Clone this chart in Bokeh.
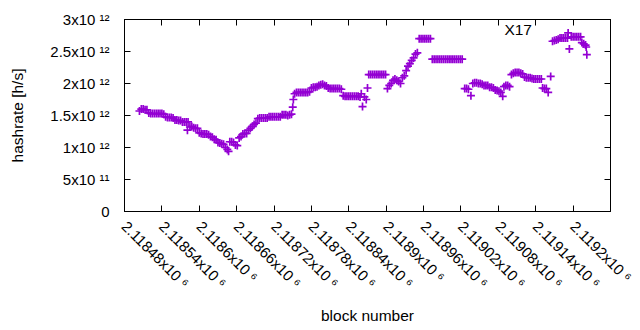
import math
from bokeh.plotting import figure
from bokeh.models import Range1d, FixedTicker, LinearAxis, Label, ColumnDataSource
from bokeh.embed import file_html
from bokeh.resources import INLINE

# ---- data (block number, hashrate in 10^12 h/s) ----
block_number = [
    2118504,
    2118507, 2118510, 2118513, 2118516,
    2118519, 2118522, 2118525, 2118528, 2118531, 2118534, 2118537, 2118540, 2118543,
    2118546, 2118549, 2118552, 2118555, 2118558,
    2118561, 2118564, 2118567, 2118570,
    2118573, 2118576, 2118579, 2118582,
    2118581,
    2118585, 2118588, 2118591, 2118594, 2118597,
    2118600, 2118603, 2118606, 2118609, 2118612, 2118615,
    2118618, 2118621, 2118624, 2118627,
    2118630, 2118633, 2118636, 2118639,
    2118642, 2118645, 2118647,
    2118649, 2118652, 2118655,
    2118658, 2118661,
    2118664, 2118667, 2118670, 2118673, 2118676,
    2118679, 2118682, 2118685,
    2118688, 2118691,
    2118694, 2118697, 2118700, 2118703, 2118706, 2118709,
    2118712, 2118715, 2118718, 2118721, 2118724, 2118727, 2118730,
    2118733, 2118736, 2118739, 2118742, 2118745, 2118748,
    2118750, 2118751,
    2118753, 2118756, 2118759, 2118762, 2118765, 2118768, 2118771, 2118774, 2118777,
    2118780, 2118783, 2118786, 2118789,
    2118792, 2118795, 2118798, 2118801, 2118804,
    2118807, 2118810, 2118813, 2118816, 2118819, 2118822, 2118825, 2118828,
    2118831, 2118834, 2118837, 2118840, 2118843, 2118846, 2118849, 2118852, 2118855, 2118858,
    2118860, 2118862, 2118865, 2118868, 2118870, 2118872,
    2118875, 2118878, 2118881, 2118884, 2118887, 2118890, 2118893, 2118896, 2118899,
    2118902, 2118905, 2118908, 2118911, 2118914, 2118917, 2118920, 2118923, 2118926,
    2118929, 2118932, 2118935, 2118938, 2118941, 2118944, 2118947, 2118950,
    2118953, 2118956, 2118959, 2118962, 2118965, 2118968, 2118971,
    2118974, 2118977, 2118980, 2118983, 2118986, 2118989, 2118992, 2118995, 2118998,
    2119001, 2119004, 2119007, 2119010, 2119013, 2119016, 2119019, 2119022,
    2119026, 2119029, 2119032, 2119036,
    2119039, 2119042, 2119045, 2119048, 2119051, 2119054,
    2119057, 2119060, 2119063,
    2119066, 2119069, 2119072,
    2119075, 2119078, 2119081, 2119084,
    2119087,
    2119089, 2119092, 2119095, 2119098,
    2119101, 2119104, 2119107, 2119110, 2119113, 2119116, 2119119,
    2119122, 2119125, 2119128, 2119131, 2119134,
    2119137, 2119140, 2119143, 2119146, 2119149,
    2119151, 2119154, 2119157, 2119160,
    2119164,
    2119167, 2119170, 2119173, 2119176,
    2119179, 2119182, 2119185, 2119188, 2119191, 2119192, 2119194,
    2119197, 2119200, 2119203, 2119206, 2119209, 2119212,
    2119214, 2119217, 2119220, 2119221, 2119222,
]

hashrate_e12 = [
    1.57,
    1.60, 1.60, 1.59, 1.59,
    1.54, 1.53, 1.53, 1.53, 1.53, 1.53, 1.53, 1.53, 1.52,
    1.48, 1.47, 1.47, 1.47, 1.46,
    1.43, 1.43, 1.42, 1.42,
    1.40, 1.40, 1.40, 1.40,
    1.27,
    1.32, 1.33, 1.31, 1.30, 1.30,
    1.23, 1.22, 1.21, 1.21, 1.21, 1.20,
    1.17, 1.16, 1.13, 1.12,
    1.08, 1.07, 1.06, 1.05,
    1.00, 0.97, 0.94,
    1.09, 1.09, 1.08,
    1.04, 1.03,
    1.15, 1.17, 1.21, 1.22, 1.22,
    1.27, 1.30, 1.33,
    1.36, 1.38,
    1.45, 1.46, 1.46, 1.46, 1.46, 1.46,
    1.48, 1.48, 1.48, 1.48, 1.48, 1.48, 1.48,
    1.51, 1.51, 1.51, 1.50, 1.51, 1.52,
    1.63, 1.75,
    1.84, 1.86, 1.86, 1.86, 1.86, 1.86, 1.86, 1.86, 1.87,
    1.93, 1.94, 1.94, 1.95,
    1.97, 1.98, 1.99, 1.97, 1.96,
    1.93, 1.92, 1.92, 1.92, 1.92, 1.92, 1.92, 1.91,
    1.81, 1.80, 1.80, 1.80, 1.80, 1.80, 1.80, 1.80, 1.80, 1.79,
    1.84, 1.64, 1.79, 1.75, 1.93, 2.14,
    2.14, 2.14, 2.14, 2.14, 2.14, 2.14, 2.14, 2.14, 2.14,
    1.92, 1.97, 2.00, 2.05, 2.07, 2.05, 2.03, 2.00, 2.09,
    2.12, 2.20, 2.27, 2.31, 2.36, 2.40, 2.46, 2.48,
    2.70, 2.70, 2.70, 2.70, 2.70, 2.70, 2.70,
    2.38, 2.38, 2.38, 2.38, 2.38, 2.38, 2.38, 2.38, 2.38,
    2.38, 2.38, 2.38, 2.38, 2.38, 2.38, 2.38, 2.38,
    1.92, 1.92, 1.91, 1.81,
    2.00, 2.01, 2.01, 2.00, 2.00, 1.99,
    1.97, 1.97, 1.97,
    1.94, 1.94, 1.93,
    1.90, 1.89, 1.88, 1.86,
    1.80,
    1.95, 1.97, 1.97, 1.95,
    2.14, 2.16, 2.17, 2.17, 2.17, 2.16, 2.15,
    2.10, 2.09, 2.09, 2.09, 2.08,
    2.07, 2.07, 2.07, 2.07, 2.07,
    1.93, 1.92, 1.92, 1.86,
    2.11,
    2.66, 2.67, 2.68, 2.69,
    2.71, 2.71, 2.71, 2.71, 2.71, 2.79, 2.54,
    2.73, 2.73, 2.73, 2.73, 2.73, 2.73,
    2.64, 2.62, 2.60, 2.57, 2.45,
]

# x range ends at the last tick (2.11926x10^6), which lies on the right border;
# its label runs off the picture, so labelled ticks stop at 2.1192x10^6
x_ticks = [2118480, 2118540, 2118600, 2118660, 2118720, 2118780, 2118840,
           2118900, 2118960, 2119020, 2119080, 2119140, 2119200, 2119260]
x_tick_labels = ["2.11848x10 \u2076", "2.11854x10 \u2076", "2.1186x10 \u2076",
                 "2.11866x10 \u2076", "2.11872x10 \u2076", "2.11878x10 \u2076",
                 "2.11884x10 \u2076", "2.1189x10 \u2076", "2.11896x10 \u2076",
                 "2.11902x10 \u2076", "2.11908x10 \u2076", "2.11914x10 \u2076",
                 "2.1192x10 \u2076"]
y_ticks = [0, 0.5e12, 1.0e12, 1.5e12, 2.0e12, 2.5e12, 3.0e12]
y_tick_labels = ["0", "5x10 \u00b9\u00b9", "1x10 \u00b9\u00b2", "1.5x10 \u00b9\u00b2",
                 "2x10 \u00b9\u00b2", "2.5x10 \u00b9\u00b2", "3x10 \u00b9\u00b2"]
series_name = "X17"

FONT = "Liberation Sans"
COLOR = "#9400d3"
ANGLE = -math.pi / 4

src = ColumnDataSource(data=dict(
    block=block_number,
    hashrate=[v * 1e12 for v in hashrate_e12],
))

p = figure(
    frame_width=486, frame_height=192,
    min_border_left=124, min_border_right=30, min_border_top=19, min_border_bottom=119,
    x_range=Range1d(x_ticks[0], x_ticks[-1]),
    y_range=Range1d(y_ticks[0], y_ticks[-1]),
    output_backend="svg", toolbar_location=None,
    background_fill_color="white", border_fill_color="white",
)
p.xgrid.grid_line_color = None
p.ygrid.grid_line_color = None
p.outline_line_color = "black"
p.outline_line_width = 1

p.scatter("block", "hashrate", source=src, marker="cross", size=8,
          line_width=1.7, color=COLOR)

# bottom axis
labelled_x = x_ticks[:len(x_tick_labels)]
xa = p.xaxis[0]
xa.ticker = FixedTicker(ticks=labelled_x)
xa.major_label_overrides = {t: l for t, l in zip(labelled_x, x_tick_labels)}
xa.major_label_orientation = ANGLE
xa.axis_label = "block number"

# left axis
ya = p.yaxis[0]
ya.ticker = FixedTicker(ticks=y_ticks)
ya.major_label_overrides = {t: l for t, l in zip(y_ticks, y_tick_labels)}
ya.axis_label = "hashrate [h/s]"

for ax in (xa, ya):
    ax.major_tick_in = 6
    ax.major_tick_out = 0
    ax.minor_tick_line_color = None
    ax.axis_line_color = "black"
    ax.major_tick_line_color = "black"
    ax.major_label_text_font = FONT
    ax.major_label_text_font_size = "15px"
    ax.major_label_text_color = "black"
    ax.axis_label_text_font = FONT
    ax.axis_label_text_font_size = "15.5px"
    ax.axis_label_text_font_style = "normal"
    ax.axis_label_text_color = "black"

xa.major_label_standoff = 12
xa.axis_label_standoff = 7
ya.major_label_standoff = 15
ya.axis_label_standoff = 21

# mirrored ticks on top and right (labels not drawn)
top = LinearAxis(ticker=FixedTicker(ticks=x_ticks), major_label_text_font_size="1px",
                 major_label_text_color=None,
                 major_tick_in=6, major_tick_out=0, minor_tick_line_color=None,
                 major_label_standoff=0, axis_line_color="black")
right = LinearAxis(ticker=FixedTicker(ticks=y_ticks), major_label_text_font_size="1px",
                   major_label_text_color=None,
                   major_tick_in=6, major_tick_out=0, minor_tick_line_color=None,
                   major_label_standoff=0, axis_line_color="black")
p.add_layout(top, "above")
p.add_layout(right, "right")

p.add_layout(Label(x=2119134, y=2.85e12, text=series_name, text_align="right",
                   text_baseline="middle", text_font=FONT, text_font_size="15.5px",
                   text_color="black"))

open("out.html", "w").write(file_html(p, INLINE))
